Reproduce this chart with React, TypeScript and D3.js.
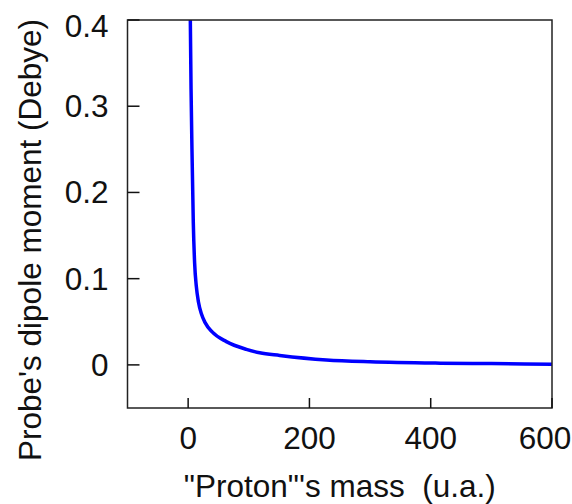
import { useMemo } from "react";
import * as d3 from "d3";

const WIDTH = 572;
const HEIGHT = 504;
const MARGIN = { top: 20, right: 20, bottom: 96, left: 127.5 };

// valeurs
const massValues = [3.6, 4.8, 6.3, 8.5, 10.7, 13.5, 17, 22, 28, 40, 63, 96, 118, 151, 228, 300, 416, 500, 600];
const dipoleValues = [0.4, 0.32, 0.25, 0.165, 0.118, 0.091, 0.073, 0.059, 0.049, 0.038, 0.027, 0.018, 0.014, 0.011, 0.0058, 0.0036, 0.002, 0.0015, 0.0008];

const xTicks = [0, 200, 400, 600];
const yTicks = [0, 0.1, 0.2, 0.3, 0.4];
const yTickLabels = ["0", "0.1", "0.2", "0.3", "0.4"];

const X_TITLE = "\"Proton\"'s mass  (u.a.)";
const Y_TITLE = "Probe's dipole moment (Debye)";

const FONT = "Liberation Sans, Arial, sans-serif";
const FONT_SIZE = 31.5;

export default function App() {
  const boundsWidth = WIDTH - MARGIN.left - MARGIN.right;
  const boundsHeight = HEIGHT - MARGIN.top - MARGIN.bottom;

  const xScale = useMemo(
    () => d3.scaleLinear().domain([-100, 600]).range([0, boundsWidth]),
    [boundsWidth]
  );
  const yScale = useMemo(
    () => d3.scaleLinear().domain([-0.05, 0.4]).range([boundsHeight, 0]),
    [boundsHeight]
  );

  const points = massValues.map((m, i) => [m, dipoleValues[i]] as [number, number]);
  const linePath = d3
    .line<[number, number]>()
    .x((d) => xScale(d[0]))
    .y((d) => yScale(d[1]))
    .curve(d3.curveMonotoneX)(points);

  return (
    <svg
      width={WIDTH}
      height={HEIGHT}
      style={{ position: "absolute", left: 0, top: 0, background: "white" }}
      fontFamily={FONT}
    >
      <g transform={`translate(${MARGIN.left},${MARGIN.top})`}>
        <defs>
          <clipPath id="plot-clip">
            <rect x={0} y={0} width={boundsWidth} height={boundsHeight} />
          </clipPath>
        </defs>

        {/* courbe */}
        <path
          d={linePath ?? ""}
          fill="none"
          stroke="#0000ff"
          strokeWidth={3.5}
          clipPath="url(#plot-clip)"
        />

        {/* cadre */}
        <rect
          x={0}
          y={0}
          width={boundsWidth}
          height={boundsHeight}
          fill="none"
          stroke="#222"
          strokeWidth={1.5}
        />

        {/* ticks Y (vers l'intérieur) */}
        {yTicks.map((t, i) => (
          <g key={"y" + i}>
            <line x1={0} x2={12} y1={yScale(t)} y2={yScale(t)} stroke="#111" strokeWidth={1.5} />
            <text
              x={-19}
              y={Math.max(yScale(t), 5.5)}
              textAnchor="end"
              dominantBaseline="central"
              fontSize={FONT_SIZE}
              fill="#111"
            >
              {yTickLabels[i]}
            </text>
          </g>
        ))}

        {/* ticks X */}
        {xTicks.map((t, i) => (
          <g key={"x" + i}>
            <line
              x1={xScale(t)}
              x2={xScale(t)}
              y1={boundsHeight}
              y2={boundsHeight - 10}
              stroke="#111"
              strokeWidth={1.5}
            />
            <text
              x={Math.min(xScale(t), boundsWidth - 7)}
              y={boundsHeight + 41}
              textAnchor="middle"
              fontSize={FONT_SIZE}
              fill="#111"
            >
              {t}
            </text>
          </g>
        ))}

        {/* titres */}
        <text
          x={boundsWidth / 2}
          y={boundsHeight + 89}
          textAnchor="middle"
          fontSize={FONT_SIZE}
          fill="#111"
          style={{ whiteSpace: "pre" }}
        >
          {X_TITLE}
        </text>
        <text
          transform={`translate(${41 - MARGIN.left},${240 - MARGIN.top}) rotate(-90)`}
          textAnchor="middle"
          fontSize={FONT_SIZE}
          fill="#111"
        >
          {Y_TITLE}
        </text>
      </g>
    </svg>
  );
}
